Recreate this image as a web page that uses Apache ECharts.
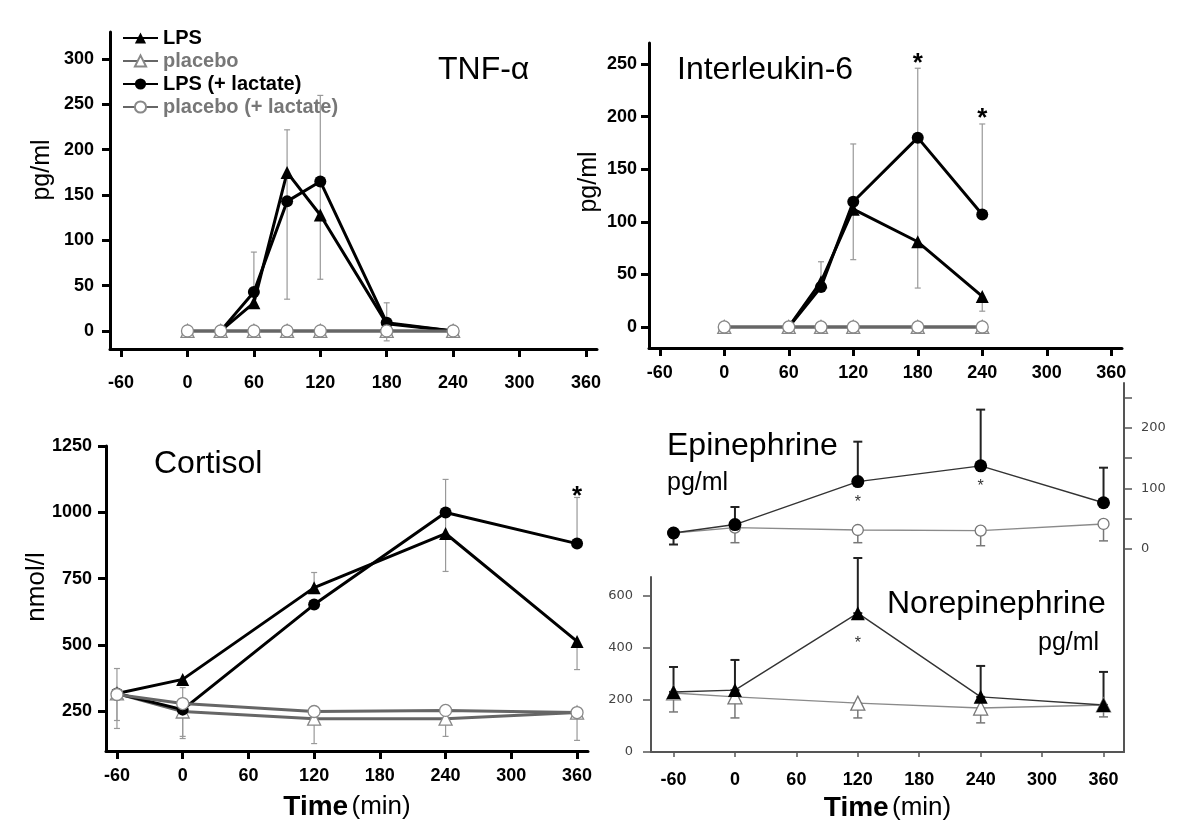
<!DOCTYPE html>
<html>
<head>
<meta charset="utf-8">
<script src="https://cdn.jsdelivr.net/npm/echarts@6/dist/echarts.min.js"></script>
<style>
html,body{margin:0;padding:0;background:#fff;}
#chart{width:1200px;height:840px;}
</style>
</head>
<body>
<div id="chart"></div>
<script>
// ---------- DATA ----------
const timeTicks = [-60, 0, 60, 120, 180, 240, 300, 360];

// TNF-alpha (pg/ml)
const tnfTime = [0, 30, 60, 90, 120, 180, 240];
const tnfLPS = [null, 0, 31, 175, 128, 8, 0];
const tnfPlacebo = [0, 0, 0, 0, 0, 0, 0];
const tnfLPSLac = [null, 0, 43, 143, 165, 9, 0];
const tnfPlaceboLac = [0, 0, 0, 0, 0, 0, 0];
const tnfErr = [[60, 43, 87], [90, 35, 222], [120, 57, 260], [180, -11, 31]];
const tnfTicks = [0, 50, 100, 150, 200, 250, 300];

// Interleukin-6 (pg/ml)
const il6Time = [0, 60, 90, 120, 180, 240];
const il6LPS = [null, 0, 43, 112, 81, 29];
const il6Placebo = [0, 0, 0, 0, 0, 0];
const il6LPSLac = [null, 0, 38, 119, 180, 107];
const il6PlaceboLac = [0, 0, 0, 0, 0, 0];
const il6Err = [[90, 38, 62], [120, 64, 174], [180, 37, 246], [240, 107, 193], [240, 15, 29]];
const il6Stars = [[180, 250], [240, 198]];
const il6Ticks = [0, 50, 100, 150, 200, 250];

// Cortisol (nmol/l)
const cortTime = [-60, 0, 120, 240, 360];
const cortLPS = [317, 370, 716, 920, 513];
const cortPlacebo = [317, 249, 222, 222, 245];
const cortLPSLac = [317, 256, 652, 999, 882];
const cortPlaceboLac = [313, 279, 249, 253, 245];
const cortErr = [[-60, 185, 411], [-60, 215, 317], [0, 147, 339], [0, 155, 256],
  [120, 716, 773], [120, 128, 222], [240, 777, 1124], [240, 155, 222],
  [360, 882, 1056], [360, 407, 513], [360, 140, 245]];
const cortStars = [[360, 1060]];
const cortTicks = [250, 500, 750, 1000, 1250];

// Epinephrine (pg/ml, right axis)
const catTime = [-60, 0, 120, 240, 360];
const epiFilled = [26, 40, 111, 137, 76];
const epiOpen = [26, 35, 31, 30, 41];
const epiErrFilled = [[-60, 7, 26], [0, 40, 69], [120, 111, 177], [240, 137, 230], [360, 76, 134]];
const epiErrOpen = [[0, 10, 35], [120, 10, 31], [240, 5, 30], [360, 13, 41]];
const epiStars = [[120, 76], [240, 102]];
const epiTicks = [0, 50, 100, 150, 200, 250];
const epiLabels = [0, 100, 200];

// Norepinephrine (pg/ml, left axis)
const neFilled = [231, 238, 534, 212, 181];
const neOpen = [227, 212, 188, 169, 181];
const neErrFilled = [[-60, 231, 327], [0, 238, 354], [120, 534, 746], [240, 212, 331], [360, 181, 308]];
const neErrOpen = [[-60, 154, 227], [0, 131, 212], [120, 131, 188], [240, 112, 169], [360, 135, 181]];
const neStars = [[120, 415]];
const neTicks = [0, 200, 400, 600];

// ---------- HELPERS ----------
const FONT = '"Liberation Sans", Arial, Helvetica, sans-serif';
const plain = v => String(v);
const pairs = (xs, ys) => xs.map((x, i) => ys[i] == null ? null : [x, ys[i]]).filter(Boolean);

function lineSeries(name, idx, data, kind, filled, thin) {
  const lw = thin ? 1.4 : 3;
  const lineColor = filled ? (thin ? '#333' : '#000') : (thin ? '#8a8a8a' : '#666');
  return {
    type: 'line', name: name, xAxisIndex: idx, yAxisIndex: idx, data: data,
    symbol: kind, symbolSize: kind === 'triangle' ? (thin ? 14 : 13) : (thin ? (filled ? 13 : 11) : 12),
    showSymbol: true, z: 3,
    lineStyle: { color: lineColor, width: lw },
    itemStyle: filled ? { color: '#000', borderColor: '#000', borderWidth: 0 }
                      : { color: '#fff', borderColor: thin ? '#777' : '#888', borderWidth: 1.3 },
    emphasis: { disabled: true },
    animation: false
  };
}

function errSeries(idx, data, color, width, cap) {
  return {
    type: 'custom', coordinateSystem: 'cartesian2d', xAxisIndex: idx, yAxisIndex: idx,
    data: data, z: 1, silent: true, animation: false,
    renderItem: function (params, api) {
      const x = api.value(0);
      const p1 = api.coord([x, api.value(1)]);
      const p2 = api.coord([x, api.value(2)]);
      const st = { stroke: color, lineWidth: width, fill: null };
      return {
        type: 'group', children: [
          { type: 'line', shape: { x1: p1[0], y1: p1[1], x2: p2[0], y2: p2[1] }, style: st },
          { type: 'line', shape: { x1: p1[0] - cap / 2, y1: p1[1], x2: p1[0] + cap / 2, y2: p1[1] }, style: st },
          { type: 'line', shape: { x1: p2[0] - cap / 2, y1: p2[1], x2: p2[0] + cap / 2, y2: p2[1] }, style: st }
        ]
      };
    }
  };
}

function starSeries(idx, data, size, weight, color) {
  return {
    type: 'custom', coordinateSystem: 'cartesian2d', xAxisIndex: idx, yAxisIndex: idx,
    data: data, z: 4, silent: true, animation: false,
    renderItem: function (params, api) {
      const p = api.coord([api.value(0), api.value(1)]);
      return {
        type: 'text', x: p[0], y: p[1],
        style: { text: '*', align: 'center', verticalAlign: 'middle',
                 font: weight + ' ' + size + 'px ' + FONT, fill: color }
      };
    }
  };
}

function topX(idx, labelMargin) {
  return {
    type: 'value', gridIndex: idx, min: -70, max: 370,
    axisLine: { show: true, onZero: false, lineStyle: { color: '#000', width: 3 } },
    axisTick: { show: true, length: 8, lineStyle: { color: '#000', width: 3 }, customValues: timeTicks },
    axisLabel: { customValues: timeTicks, formatter: plain, fontFamily: FONT, fontSize: 18, fontWeight: 'bold', color: '#000', margin: labelMargin },
    splitLine: { show: false }
  };
}
function topY(idx, min, max, ticks, labelMargin) {
  return {
    type: 'value', gridIndex: idx, min: min, max: max,
    axisLine: { show: true, onZero: false, lineStyle: { color: '#000', width: 3 } },
    axisTick: { show: true, length: 8, lineStyle: { color: '#000', width: 3 }, customValues: ticks },
    axisLabel: { customValues: ticks, formatter: plain, fontFamily: FONT, fontSize: 18, fontWeight: 'bold', color: '#000', margin: labelMargin },
    splitLine: { show: false }
  };
}
const timeName = '{b|Time} {r|(min)}';
const timeNameStyle = {
  rich: {
    b: { fontFamily: FONT, fontSize: 28, fontWeight: 'bold', color: '#000' },
    r: { fontFamily: FONT, fontSize: 26, fontWeight: 'normal', color: '#000' }
  }
};

const titleStyle = { fontFamily: FONT, fontSize: 32, fontWeight: 'normal', color: '#000' };
const smallTitleStyle = { fontFamily: FONT, fontSize: 25, fontWeight: 'normal', color: '#000' };

const option = {
  backgroundColor: '#fff',
  animation: false,
  title: [
    { text: 'TNF-α', left: 438, top: 54, padding: 0, textStyle: titleStyle },
    { text: 'Interleukin-6', left: 677, top: 54, padding: 0, textStyle: titleStyle },
    { text: 'Cortisol', left: 154, top: 448, padding: 0, textStyle: titleStyle },
    { text: 'Epinephrine', left: 667, top: 430, padding: 0, textStyle: titleStyle },
    { text: 'pg/ml', left: 667, top: 471, padding: 0, textStyle: smallTitleStyle },
    { text: 'Norepinephrine', left: 887, top: 588, padding: 0, textStyle: titleStyle },
    { text: 'pg/ml', left: 1038, top: 631, padding: 0, textStyle: smallTitleStyle }
  ],
  legend: {
    left: 122, top: 28, orient: 'vertical', itemWidth: 35, itemHeight: 14, itemGap: 3,
    padding: 0, selectedMode: false,
    textStyle: { fontFamily: FONT, fontSize: 20, fontWeight: 'bold', lineHeight: 20 },
    data: [
      { name: 'LPS', textStyle: { color: '#000' } },
      { name: 'placebo', textStyle: { color: '#777' } },
      { name: 'LPS (+ lactate)', textStyle: { color: '#000' } },
      { name: 'placebo (+ lactate)', textStyle: { color: '#777' } }
    ]
  },
  grid: [
    { left: 110, top: 32, width: 487, height: 317 },
    { left: 649, top: 43, width: 473, height: 305 },
    { left: 106, top: 446, width: 482, height: 305 },
    { left: 651, top: 577, width: 473, height: 175 },
    { left: 651, top: 383, width: 473, height: 369 }
  ],
  xAxis: [
    topX(0, 25),
    topX(1, 16),
    Object.assign(topX(2, 16), { name: timeName, nameLocation: 'middle', nameGap: 42, nameTextStyle: timeNameStyle }),
    {
      type: 'value', gridIndex: 3, min: -82, max: 380,
      name: timeName, nameLocation: 'middle', nameGap: 42, nameTextStyle: timeNameStyle,
      axisLine: { show: true, onZero: false, lineStyle: { color: '#555', width: 2 } },
      axisTick: { show: true, length: 5, lineStyle: { color: '#555', width: 1.5 }, customValues: timeTicks },
      axisLabel: { customValues: timeTicks, formatter: plain, fontFamily: FONT, fontSize: 18, fontWeight: 'bold', color: '#000', margin: 19 },
      splitLine: { show: false }
    },
    { type: 'value', gridIndex: 4, min: -82, max: 380, show: false, splitLine: { show: false } }
  ],
  yAxis: [
    topY(0, -20, 330, tnfTicks, 16),
    topY(1, -20, 270, il6Ticks, 12),
    topY(2, 100, 1250, cortTicks, 14),
    {
      type: 'value', gridIndex: 3, min: 0, max: 673,
      axisLine: { show: true, onZero: false, lineStyle: { color: '#555', width: 2 } },
      axisTick: { show: true, length: 8, lineStyle: { color: '#555', width: 1.5 }, customValues: neTicks },
      axisLabel: { customValues: neTicks, formatter: plain, fontFamily: '"DejaVu Sans", sans-serif', fontSize: 13, color: '#444', margin: 18 },
      splitLine: { show: false }
    },
    {
      type: 'value', gridIndex: 4, min: -336, max: 274, position: 'right',
      axisLine: { show: true, onZero: false, lineStyle: { color: '#555', width: 2 } },
      axisTick: { show: true, length: 8, lineStyle: { color: '#555', width: 1.5 }, customValues: epiTicks },
      axisLabel: { customValues: epiLabels, formatter: plain, fontFamily: '"DejaVu Sans", sans-serif', fontSize: 13, color: '#444', margin: 17 },
      splitLine: { show: false }
    }
  ],
  graphic: [
    { type: 'text', x: 42, y: 170, rotation: Math.PI / 2,
      style: { text: 'pg/ml', align: 'center', verticalAlign: 'middle', font: 'normal 25px ' + FONT, fill: '#000' } },
    { type: 'text', x: 589, y: 182, rotation: Math.PI / 2,
      style: { text: 'pg/ml', align: 'center', verticalAlign: 'middle', font: 'normal 25px ' + FONT, fill: '#000' } },
    { type: 'text', x: 37, y: 587, rotation: Math.PI / 2,
      style: { text: 'nmol/l', align: 'center', verticalAlign: 'middle', font: 'normal 26px ' + FONT, fill: '#000' } }
  ],
  series: [
    // TNF
    errSeries(0, tnfErr, '#999', 1.2, 6),
    lineSeries('LPS', 0, pairs(tnfTime, tnfLPS), 'triangle', true),
    lineSeries('placebo', 0, pairs(tnfTime, tnfPlacebo), 'triangle', false),
    lineSeries('LPS (+ lactate)', 0, pairs(tnfTime, tnfLPSLac), 'circle', true),
    lineSeries('placebo (+ lactate)', 0, pairs(tnfTime, tnfPlaceboLac), 'circle', false),
    // IL-6
    errSeries(1, il6Err, '#999', 1.2, 6),
    lineSeries('LPS', 1, pairs(il6Time, il6LPS), 'triangle', true),
    lineSeries('placebo', 1, pairs(il6Time, il6Placebo), 'triangle', false),
    lineSeries('LPS (+ lactate)', 1, pairs(il6Time, il6LPSLac), 'circle', true),
    lineSeries('placebo (+ lactate)', 1, pairs(il6Time, il6PlaceboLac), 'circle', false),
    starSeries(1, il6Stars, 26, 'bold', '#000'),
    // Cortisol
    errSeries(2, cortErr, '#999', 1.2, 6),
    lineSeries('LPS', 2, pairs(cortTime, cortLPS), 'triangle', true),
    lineSeries('placebo', 2, pairs(cortTime, cortPlacebo), 'triangle', false),
    lineSeries('LPS (+ lactate)', 2, pairs(cortTime, cortLPSLac), 'circle', true),
    lineSeries('placebo (+ lactate)', 2, pairs(cortTime, cortPlaceboLac), 'circle', false),
    starSeries(2, cortStars, 26, 'bold', '#000'),
    // Norepinephrine
    errSeries(3, neErrOpen, '#777', 1.5, 9),
    errSeries(3, neErrFilled, '#222', 2, 9),
    lineSeries('Norepinephrine placebo', 3, pairs(catTime, neOpen), 'triangle', false, true),
    lineSeries('Norepinephrine LPS', 3, pairs(catTime, neFilled), 'triangle', true, true),
    starSeries(3, neStars, 16, 'normal', '#333'),
    // Epinephrine
    errSeries(4, epiErrOpen, '#777', 1.5, 9),
    errSeries(4, epiErrFilled, '#222', 2, 9),
    lineSeries('Epinephrine placebo', 4, pairs(catTime, epiOpen), 'circle', false, true),
    lineSeries('Epinephrine LPS', 4, pairs(catTime, epiFilled), 'circle', true, true),
    starSeries(4, epiStars, 16, 'normal', '#333')
  ]
};

const chart = echarts.init(document.getElementById('chart'), null, { renderer: 'canvas' });
chart.setOption(option);
</script>
</body>
</html>
